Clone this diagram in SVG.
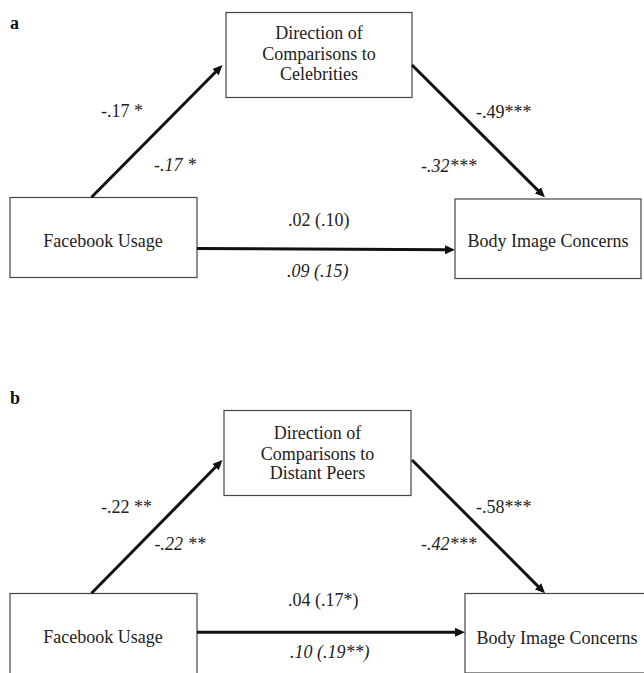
<svg xmlns="http://www.w3.org/2000/svg" width="644" height="673" viewBox="0 0 644 673">
<style>
.box{fill:#fff;stroke:#444;stroke-width:1.2}
.t{font-family:"Liberation Serif","Times New Roman",serif;font-size:18px;fill:#222}
.m{text-anchor:middle}
.i{font-style:italic}
.lbl{font-family:"Liberation Serif","Times New Roman",serif;font-size:18px;font-weight:bold;fill:#111}
.arr{stroke:#111;stroke-width:3;fill:none;marker-end:url(#ah)}
</style>
<defs>
<marker id="ah" markerUnits="userSpaceOnUse" markerWidth="11" markerHeight="9" refX="4" refY="4.5" orient="auto">
<path d="M0,0 L10,4.5 L0,9 z" fill="#111"/>
</marker>
</defs>
<rect width="644" height="673" fill="#fff"/>

<!-- Panel a -->
<text class="lbl" x="10" y="29">a</text>
<g id="a-mediator">
<rect class="box" x="226" y="12.5" width="186" height="85"/>
<text class="t m" x="319" y="39">Direction of</text>
<text class="t m" x="319" y="60">Comparisons to</text>
<text class="t m" x="319" y="80">Celebrities</text>
</g>
<g id="a-facebook">
<rect class="box" x="10" y="197.5" width="187" height="80"/>
<text class="t m" x="103" y="247">Facebook Usage</text>
</g>
<g id="a-body">
<rect class="box" x="455" y="199" width="186" height="79.5"/>
<text class="t m" x="548" y="247">Body Image Concerns</text>
</g>
<g id="a-connectors">
<line class="arr" x1="91.5" y1="197.3" x2="218.3" y2="69.3"/>
<line class="arr" x1="412" y1="65" x2="540.7" y2="193.1"/>
<line class="arr" x1="197" y1="248.5" x2="449" y2="249.8"/>
<text class="t" x="101" y="117">-.17 *</text>
<text class="t i" x="154" y="171">-.17 *</text>
<text class="t" x="476" y="118">-.49***</text>
<text class="t i" x="421" y="171.5">-.32***</text>
<text class="t" x="288" y="225.5">.02 (.10)</text>
<text class="t i" x="287" y="277">.09 (.15)</text>
</g>

<!-- Panel b -->
<text class="lbl" x="10" y="404">b</text>
<g id="b-mediator">
<rect class="box" x="224" y="410.5" width="187" height="85"/>
<text class="t m" x="317.5" y="439">Direction of</text>
<text class="t m" x="317.5" y="459.5">Comparisons to</text>
<text class="t m" x="317.5" y="479">Distant Peers</text>
</g>
<g id="b-facebook">
<rect class="box" x="10" y="593.5" width="187" height="81"/>
<text class="t m" x="103" y="643">Facebook Usage</text>
</g>
<g id="b-body">
<rect class="box" x="465" y="593.5" width="187" height="79.5"/>
<text class="t m" x="557" y="643.5">Body Image Concerns</text>
</g>
<g id="b-connectors">
<line class="arr" x1="91.5" y1="593.3" x2="218.3" y2="464.3"/>
<line class="arr" x1="412" y1="460" x2="540.8" y2="589.1"/>
<line class="arr" x1="197" y1="632.3" x2="459" y2="632.3"/>
<text class="t" x="101" y="512.5">-.22 **</text>
<text class="t i" x="154.5" y="550">-.22 **</text>
<text class="t" x="476" y="512.5">-.58***</text>
<text class="t i" x="421" y="550">-.42***</text>
<text class="t" x="288" y="606">.04 (.17*)</text>
<text class="t i" x="290" y="658">.10 (.19**)</text>
</g>
</svg>
